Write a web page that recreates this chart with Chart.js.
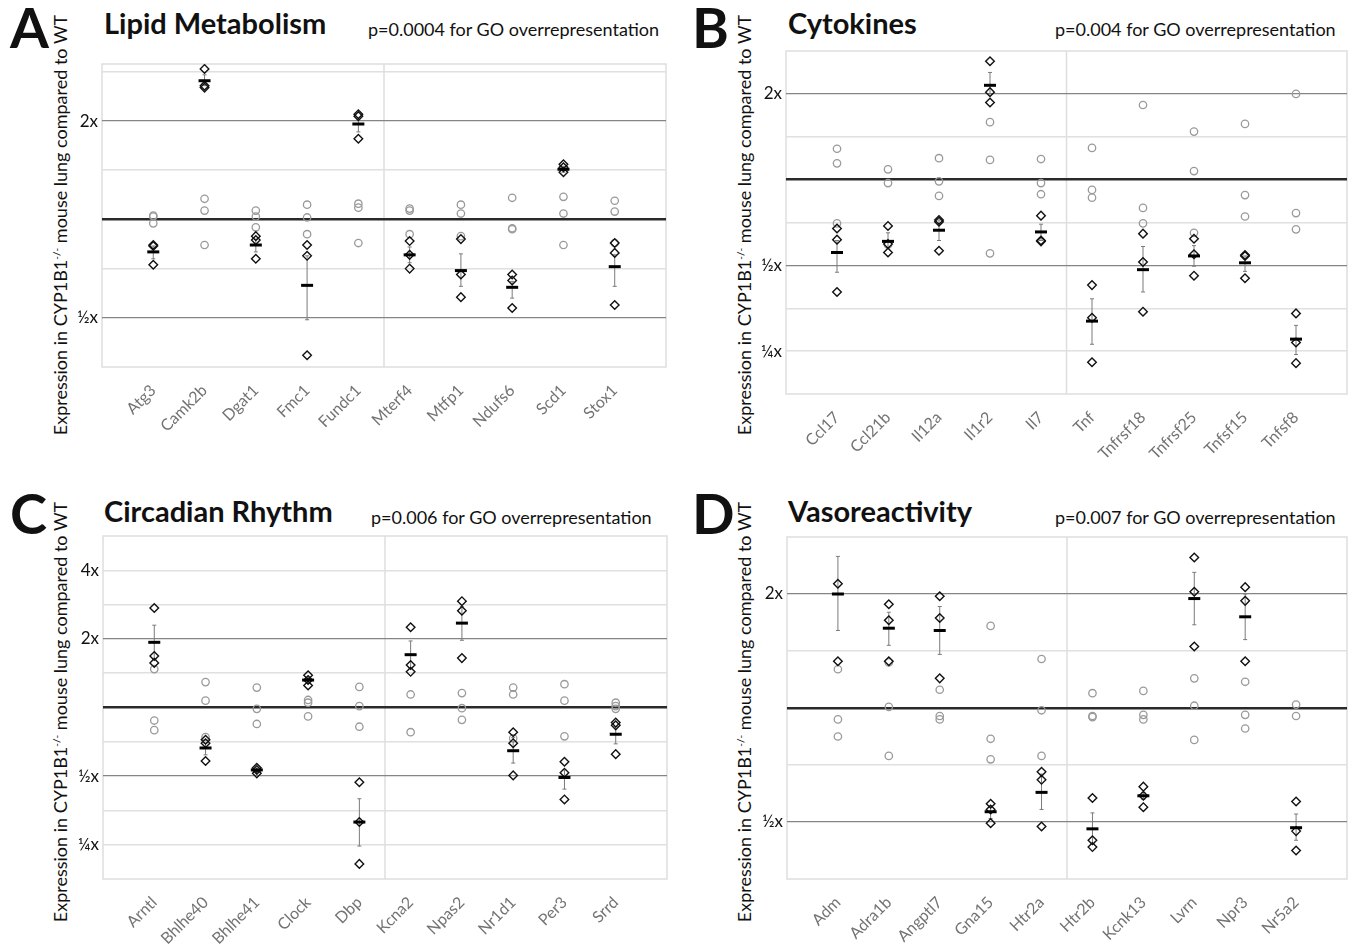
<!DOCTYPE html>
<html>
<head>
<meta charset="utf-8">
<script src="https://cdn.jsdelivr.net/npm/chart.js"></script>
<style>
  body { margin: 0; background: #fff; width: 1356px; height: 945px; position: relative; overflow: hidden; font-family: Lato, sans-serif; color: #111; }
  canvas { position: absolute; }
  .letter { position: absolute; font-weight: 700; font-size: 56px; line-height: 1; }
  .title { position: absolute; font-weight: 700; font-size: 29px; line-height: 1; }
  .pval { position: absolute; font-size: 18px; line-height: 1; }
  .ylab { position: absolute; font-size: 18px; white-space: nowrap; line-height: 1; transform: translate(-50%, -50%) rotate(-90deg); }
  .ylab sup { font-size: 10px; }
</style>
</head>
<body>

<div class="letter" style="left:10px;top:-1px">A</div>
<div class="title" style="left:104px;top:8px">Lipid Metabolism</div>
<div class="pval" style="left:368px;top:20px">p=0.0004 for GO overrepresentation</div>
<div class="ylab" style="left:60px;top:225px">Expression in CYP1B1<sup>-/-</sup> mouse lung compared to WT</div>
<canvas id="lipidCanvas" width="678" height="470" style="left:0;top:0"></canvas>

<div class="letter" style="left:692px;top:-1px">B</div>
<div class="title" style="left:788px;top:8px">Cytokines</div>
<div class="pval" style="left:1055px;top:20px">p=0.004 for GO overrepresentation</div>
<div class="ylab" style="left:744px;top:225px">Expression in CYP1B1<sup>-/-</sup> mouse lung compared to WT</div>
<canvas id="cytoCanvas" width="676" height="470" style="left:680px;top:0"></canvas>

<div class="letter" style="left:10px;top:485px">C</div>
<div class="title" style="left:104px;top:496px">Circadian Rhythm</div>
<div class="pval" style="left:371px;top:508px">p=0.006 for GO overrepresentation</div>
<div class="ylab" style="left:60px;top:712px">Expression in CYP1B1<sup>-/-</sup> mouse lung compared to WT</div>
<canvas id="circCanvas" width="678" height="475" style="left:0;top:470px"></canvas>

<div class="letter" style="left:692px;top:485px">D</div>
<div class="title" style="left:788px;top:496px">Vasoreactivity</div>
<div class="pval" style="left:1055px;top:508px">p=0.007 for GO overrepresentation</div>
<div class="ylab" style="left:744px;top:712px">Expression in CYP1B1<sup>-/-</sup> mouse lung compared to WT</div>
<canvas id="vasoCanvas" width="676" height="475" style="left:680px;top:470px"></canvas>

<script>
// all values are log2 fold change vs WT (0 = 1x, 1 = 2x, -1 = ½x)

// A - lipid metabolism
const lipidGenes = ['Atg3', 'Camk2b', 'Dgat1', 'Fmc1', 'Fundc1', 'Mterf4', 'Mtfp1', 'Ndufs6', 'Scd1', 'Stox1'];
const lipidWT = [
    [0.04, 0.03, -0.04], [0.21, 0.09, -0.26], [0.09, 0.03, -0.08], [0.15, 0.02, -0.15], [0.16, 0.12, -0.24],
    [0.11, 0.09, -0.15], [0.15, 0.06, -0.17], [0.22, -0.09, -0.10], [0.23, 0.06, -0.26], [0.19, 0.08, -0.24]
];
const lipidKO = [
    [-0.26, -0.27, -0.46], [1.53, 1.36, 1.34], [-0.17, -0.21, -0.40], [-0.26, -0.37, -1.38], [1.07, 1.05, 0.82],
    [-0.22, -0.36, -0.50], [-0.20, -0.56, -0.79], [-0.56, -0.62, -0.90], [0.56, 0.53, 0.48], [-0.24, -0.34, -0.87]
];
const lipidMean = [-0.33, 1.41, -0.26, -0.67, 0.97, -0.36, -0.52, -0.69, 0.51, -0.48];
const lipidLo = [-0.40, 1.36, -0.33, -1.02, 0.89, -0.44, -0.68, -0.80, 0.48, -0.68];
const lipidHi = [-0.27, 1.47, -0.20, -0.37, 1.01, -0.28, -0.35, -0.63, 0.54, -0.36];

// B - cytokines
const cytoGenes = ['Ccl17', 'Ccl21b', 'Il12a', 'Il1r2', 'Il7', 'Tnf', 'Tnfrsf18', 'Tnfrsf25', 'Tnfsf15', 'Tnfsf8'];
const cytoWT = [
    [0.36, 0.19, -0.51], [0.12, -0.04, -0.76], [0.25, -0.02, -0.19], [0.67, 0.23, -0.86], [0.24, -0.04, -0.17],
    [0.37, -0.12, -0.21], [0.87, -0.33, -0.51], [0.56, 0.10, -0.62], [0.65, -0.18, -0.43], [1.00, -0.39, -0.58]
];
const cytoKO = [
    [-0.57, -0.70, -1.31], [-0.54, -0.75, -0.85], [-0.47, -0.49, -0.83], [1.38, 1.02, 0.90], [-0.42, -0.71, -0.72],
    [-1.23, -1.61, -2.13], [-0.63, -0.96, -1.54], [-0.69, -0.87, -1.12], [-0.88, -0.89, -1.15], [-1.56, -1.90, -2.14]
];
const cytoMean = [-0.85, -0.72, -0.59, 1.10, -0.61, -1.65, -1.05, -0.89, -0.97, -1.86];
const cytoLo = [-1.08, -0.79, -0.71, 1.00, -0.71, -1.92, -1.31, -1.01, -1.07, -2.04];
const cytoHi = [-0.71, -0.62, -0.47, 1.25, -0.52, -1.39, -0.78, -0.77, -0.89, -1.70];

// C - circadian rhythm
const circGenes = ['Arntl', 'Bhlhe40', 'Bhlhe41', 'Clock', 'Dbp', 'Kcna2', 'Npas2', 'Nr1d1', 'Per3', 'Srrd'];
const circWT = [
    [0.56, -0.19, -0.33], [0.37, 0.10, -0.43], [0.29, -0.02, -0.24], [0.11, 0.07, -0.13], [0.30, 0.02, -0.28],
    [0.19, -0.36], [0.21, -0.01, -0.18], [0.29, 0.19, -0.45], [0.34, 0.10, -0.42], [0.07, 0.02, -0.02]
];
const circKO = [
    [1.45, 0.75, 0.65], [-0.47, -0.52, -0.78], [-0.88, -0.91, -0.96], [0.47, 0.40, 0.32], [-1.09, -1.67, -2.28],
    [1.17, 0.62, 0.52], [1.55, 1.41, 0.72], [-0.36, -0.52, -0.99], [-0.79, -0.95, -1.34], [-0.22, -0.26, -0.68]
];
const circMean = [0.95, -0.59, -0.91, 0.40, -1.67, 0.77, 1.23, -0.63, -1.02, -0.39];
const circLo = [0.70, -0.69, -0.94, 0.36, -2.02, 0.57, 0.98, -0.81, -1.19, -0.53];
const circHi = [1.20, -0.52, -0.88, 0.44, -1.33, 0.97, 1.47, -0.44, -0.91, -0.28];

// D - vasoreactivity
const vasoGenes = ['Adm', 'Adra1b', 'Angptl7', 'Gna15', 'Htr2a', 'Htr2b', 'Kcnk13', 'Lvrn', 'Npr3', 'Nr5a2'];
const vasoWT = [
    [0.34, -0.10, -0.25], [0.40, 0.01, -0.42], [0.16, -0.07, -0.10], [0.72, -0.27, -0.45], [0.43, -0.02, -0.42],
    [0.13, -0.07, -0.08], [0.15, -0.06, -0.10], [0.26, 0.02, -0.28], [0.23, -0.06, -0.18], [0.03, -0.07]
];
const vasoKO = [
    [1.09, 0.41], [0.91, 0.77, 0.41], [0.98, 0.79, 0.26], [-0.84, -0.89, -1.01], [-0.56, -0.63, -1.04],
    [-0.79, -1.16, -1.22], [-0.69, -0.77, -0.87], [1.32, 1.02, 0.54], [1.06, 0.94, 0.41], [-0.82, -1.08, -1.25]
];
const vasoMean = [1.00, 0.70, 0.68, -0.91, -0.74, -1.06, -0.77, 0.96, 0.80, -1.05];
const vasoLo = [0.68, 0.55, 0.47, -0.97, -0.89, -1.19, -0.80, 0.73, 0.60, -1.16];
const vasoHi = [1.33, 0.84, 0.89, -0.86, -0.58, -0.92, -0.74, 1.19, 1.00, -0.93];

// y grid lines (log2) and their labels
const lipidGrid = [-1, -0.5, 0, 0.5, 1, 1.5];
const cytoGrid = [-2, -1.5, -1, -0.5, 0, 0.5, 1];
const circGrid = [-2, -1.5, -1, -0.5, 0, 0.5, 1, 1.5, 2];
const vasoGrid = [-1, -0.5, 0, 0.5, 1];
const foldLabels = { '2': '4x', '1': '2x', '-1': '½x', '-2': '¼x' };

const framePlugin = {
    id: 'frame',
    beforeDraw(chart) {
        const { ctx, chartArea: a, scales: { x } } = chart;
        ctx.save();
        ctx.strokeStyle = '#dedede';
        ctx.lineWidth = 1.5;
        ctx.strokeRect(a.left, a.top, a.width, a.height);
        const dx = x.getPixelForValue(4.5);
        ctx.beginPath();
        ctx.moveTo(dx, a.top);
        ctx.lineTo(dx, a.bottom);
        ctx.stroke();
        ctx.restore();
    }
};

const makeChart = (canvasId, genes, wt, ko, mean, lo, hi, grid, yMin, yMax, area) => {
    const canvas = document.getElementById(canvasId);
    const wtPts = wt.flatMap((vals, i) => vals.map(v => ({ x: i, y: v })));
    const koPts = ko.flatMap((vals, i) => vals.map(v => ({ x: i, y: v })));
    const meanPts = mean.map((v, i) => ({ x: i, y: v }));
    const errPts = lo.flatMap((v, i) => [{ x: i, y: v }, { x: i, y: hi[i] }, { x: i, y: null }]);

    return new Chart(canvas.getContext('2d'), {
        type: 'scatter',
        data: {
            datasets: [
                { data: meanPts, order: 0, pointStyle: 'line', radius: 6, borderWidth: 3, borderColor: '#000' },
                { data: koPts, order: 1, pointStyle: 'rectRot', radius: 4.3, borderWidth: 1.4, borderColor: '#111', backgroundColor: 'rgba(255,255,255,0)' },
                { data: errPts, order: 2, showLine: true, spanGaps: false, borderColor: '#7a7a7a', borderWidth: 1, pointStyle: 'line', radius: 2, pointBorderWidth: 1, pointBorderColor: '#7a7a7a' },
                { data: wtPts, order: 3, pointStyle: 'circle', radius: 3.7, borderWidth: 1.3, borderColor: '#9a9a9a', backgroundColor: 'rgba(255,255,255,0)' }
            ]
        },
        options: {
            responsive: false,
            animation: false,
            events: [],
            layout: { padding: { left: 0, top: area.top, right: canvas.width - area.right, bottom: 0 } },
            plugins: { legend: { display: false }, tooltip: { enabled: false } },
            scales: {
                x: {
                    type: 'linear', min: -1, max: 10,
                    afterBuildTicks: s => { s.ticks = genes.map((g, i) => ({ value: i })); },
                    afterFit: s => { s.height = canvas.height - area.bottom; },
                    ticks: { callback: v => genes[v], color: '#737373', font: { family: 'Lato', size: 16 }, minRotation: 45, maxRotation: 45, autoSkip: false, padding: 6 },
                    grid: { display: false },
                    border: { display: false }
                },
                y: {
                    type: 'linear', min: yMin, max: yMax,
                    afterBuildTicks: s => { s.ticks = grid.map(v => ({ value: v })); },
                    afterFit: s => { s.width = area.left; },
                    ticks: { callback: v => foldLabels[v] || '', color: '#111', font: { family: 'Lato', size: 17 }, padding: 4 },
                    grid: {
                        drawTicks: false,
                        color: c => c.tick.value === 0 ? '#2a2a2a' : (Math.abs(c.tick.value) === 1 ? '#858585' : '#e0e0e0'),
                        lineWidth: c => c.tick.value === 0 ? 2.5 : (Math.abs(c.tick.value) === 1 ? 1.3 : 1.5)
                    },
                    border: { display: false }
                }
            }
        },
        plugins: [framePlugin]
    });
};

makeChart('lipidCanvas', lipidGenes, lipidWT, lipidKO, lipidMean, lipidLo, lipidHi, lipidGrid, -1.5, 1.58, { left: 102, right: 666, top: 64, bottom: 367 });
makeChart('cytoCanvas', cytoGenes, cytoWT, cytoKO, cytoMean, cytoLo, cytoHi, cytoGrid, -2.5, 1.5, { left: 106, right: 670, top: 51, bottom: 394 });
makeChart('circCanvas', circGenes, circWT, circKO, circMean, circLo, circHi, circGrid, -2.5, 2.5, { left: 103, right: 667, top: 66, bottom: 409 });
makeChart('vasoCanvas', vasoGenes, vasoWT, vasoKO, vasoMean, vasoLo, vasoHi, vasoGrid, -1.5, 1.5, { left: 107, right: 671, top: 67, bottom: 409 });
</script>
</body>
</html>
